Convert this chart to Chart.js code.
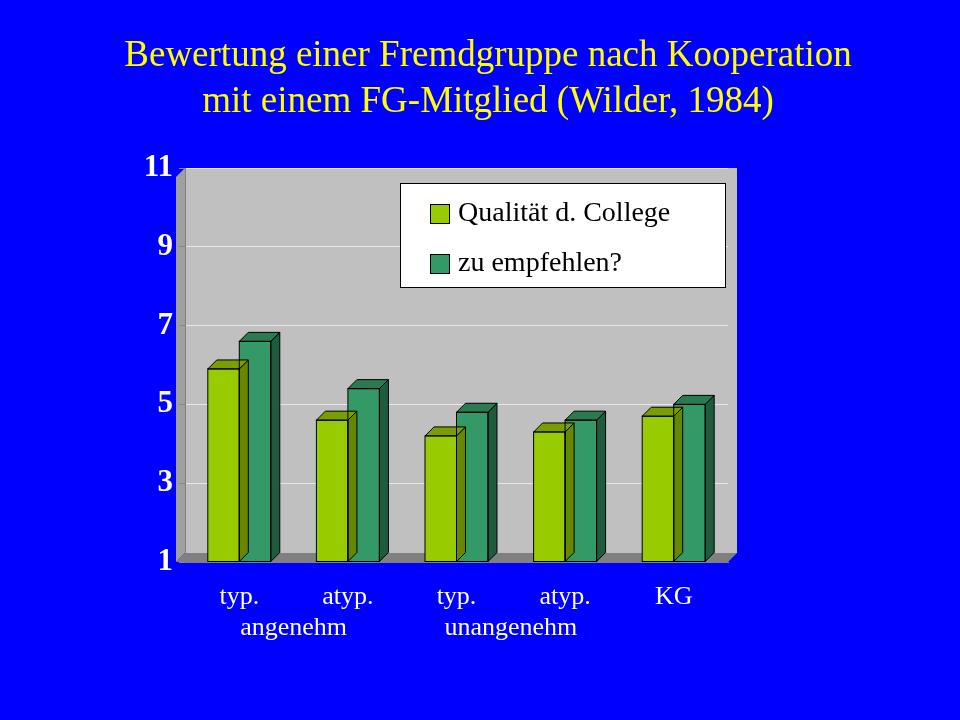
<!DOCTYPE html>
<html>
<head>
<meta charset="utf-8">
<script src="https://cdn.jsdelivr.net/npm/chart.js@4/dist/chart.umd.min.js"></script>
<style>
  html, body { margin: 0; padding: 0; background: #0000ff; }
  #wrap { width: 960px; height: 720px; }
</style>
</head>
<body>
<div id="wrap"><canvas id="c" width="960" height="720"></canvas></div>
<script>
const categories = ["typ.", "atyp.", "typ.", "atyp.", "KG"];
const groupLabels = ["angenehm", "unangenehm"];
const seriesNames = ["Qualität d. College", "zu empfehlen?"];
const quality = [5.9, 4.6, 4.2, 4.3, 4.7];
const recommend = [6.6, 5.4, 4.8, 4.6, 5.0];
const titleLines = ["Bewertung einer Fremdgruppe nach Kooperation", "mit einem FG-Mitglied (Wilder, 1984)"];

const colors = ["#99cc00", "#339966"];
const sides = ["#668800", "#1f5c3d"];
const tops = ["#7a9e00", "#2a7a52"];
const depth = 9;

// background, title, plot area
const decor = {
  id: "decor",
  beforeDraw(chart) {
    const { ctx, chartArea: a } = chart;
    ctx.save();
    ctx.fillStyle = "#0000ff";
    ctx.fillRect(0, 0, chart.width, chart.height);
    ctx.fillStyle = "#ffff00";
    ctx.font = "37px 'Liberation Serif', 'Times New Roman', serif";
    ctx.textAlign = "center";
    ctx.textBaseline = "middle";
    ctx.fillText(titleLines[0], 488, 56);
    ctx.fillText(titleLines[1], 488, 102);
    // 3D walls
    ctx.fillStyle = "#a0a0a0";
    ctx.beginPath();
    ctx.moveTo(a.left - depth, a.top + depth);
    ctx.lineTo(a.left, a.top);
    ctx.lineTo(a.left, a.bottom - depth);
    ctx.lineTo(a.left - depth, a.bottom);
    ctx.fill();
    ctx.fillStyle = "#c0c0c0";
    ctx.fillRect(a.left, a.top, a.right - a.left + depth, a.bottom - a.top - depth);
    ctx.fillStyle = "#808080";
    ctx.beginPath();
    ctx.moveTo(a.left - depth, a.bottom);
    ctx.lineTo(a.left, a.bottom - depth);
    ctx.lineTo(a.right + depth, a.bottom - depth);
    ctx.lineTo(a.right, a.bottom);
    ctx.fill();
    ctx.restore();
  },
  afterDatasetsDraw(chart) {
    const { ctx } = chart;
    ctx.save();
    chart.data.datasets.forEach((ds, di) => {
      chart.getDatasetMeta(di).data.forEach(bar => {
        const half = bar.width / 2;
        const l = bar.x - half, r = bar.x + half, t = bar.y, b = bar.base;
        ctx.fillStyle = sides[di];
        ctx.beginPath();
        ctx.moveTo(r, t); ctx.lineTo(r + depth, t - depth);
        ctx.lineTo(r + depth, b - depth); ctx.lineTo(r, b); ctx.closePath();
        ctx.fill(); ctx.strokeStyle = "#000"; ctx.lineWidth = 1; ctx.stroke();
        ctx.fillStyle = tops[di];
        ctx.beginPath();
        ctx.moveTo(l, t); ctx.lineTo(l + depth, t - depth);
        ctx.lineTo(r + depth, t - depth); ctx.lineTo(r, t); ctx.closePath();
        ctx.fill(); ctx.stroke();
        ctx.strokeRect(l, t, r - l, b - t);
      });
    });
    // second label row
    const x = chart.scales.x;
    ctx.fillStyle = "#ffffff";
    ctx.font = "26px 'Liberation Serif', 'Times New Roman', serif";
    ctx.textAlign = "center";
    ctx.textBaseline = "middle";
    ctx.fillText(groupLabels[0], x.getPixelForValue(0.5), 628);
    ctx.fillText(groupLabels[1], x.getPixelForValue(2.5), 628);
    // legend
    ctx.fillStyle = "#ffffff";
    ctx.fillRect(400, 183, 325, 104);
    ctx.strokeStyle = "#000";
    ctx.strokeRect(400.5, 183.5, 325, 104);
    ctx.font = "28px 'Liberation Serif', 'Times New Roman', serif";
    ctx.textAlign = "left";
    seriesNames.forEach((n, i) => {
      const y = 213 + i * 50;
      ctx.fillStyle = colors[i];
      ctx.fillRect(430, y - 9, 20, 20);
      ctx.strokeRect(430.5, y - 8.5, 19, 19);
      ctx.fillStyle = "#000";
      ctx.fillText(n, 458, y + 1);
    });
    ctx.restore();
  }
};

new Chart(document.getElementById("c"), {
  type: "bar",
  data: {
    labels: categories,
    datasets: [
      { label: seriesNames[0], data: quality, backgroundColor: colors[0] },
      { label: seriesNames[1], data: recommend, backgroundColor: colors[1] }
    ]
  },
  options: {
    responsive: false,
    animation: false,
    layout: { padding: { top: 168, right: 232, bottom: 0, left: 0 } },
    datasets: { bar: { categoryPercentage: 0.58, barPercentage: 1, base: 1 } },
    plugins: { legend: { display: false }, title: { display: false }, tooltip: { enabled: false } },
    scales: {
      y: {
        min: 1, max: 11,
        ticks: { stepSize: 1, color: "#ffffff", padding: 6,
          font: { family: "'Liberation Serif', 'Times New Roman', serif", size: 31, weight: "bold" } },
        grid: { color: "#e8e8e8", drawTicks: true, tickLength: 6, tickColor: "#888" },
        border: { color: "#808080" },
        afterFit: s => { s.width = 185; }
      },
      x: {
        ticks: { color: "#ffffff", padding: 12,
          font: { family: "'Liberation Serif', 'Times New Roman', serif", size: 26 } },
        grid: { display: false },
        border: { color: "#808080" },
        afterFit: s => { s.height = 158; }
      }
    }
  },
  plugins: [decor]
});
</script>
</body>
</html>
